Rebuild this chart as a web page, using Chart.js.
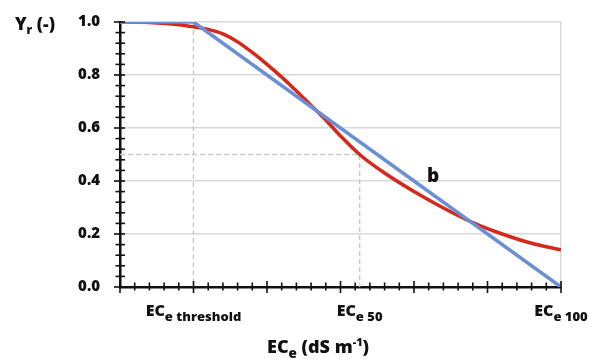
<!DOCTYPE html>
<html>
<head>
<meta charset="utf-8">
<script src="https://cdn.jsdelivr.net/npm/chart.js@4.4.1/dist/chart.umd.min.js"></script>
<style>
  html, body { margin: 0; padding: 0; background: #fff; }
  #wrap { width: 589px; height: 359px; position: relative; }
</style>
</head>
<body>
<div id="wrap"><canvas id="chart"></canvas></div>
<script>
// Relative yield vs. soil salinity (ECe)
const ecValues = [0, 2, 4, 5, 6, 7, 8, 9, 10, 11, 12, 13, 14, 15, 16.3, 18, 20, 22, 24, 26, 28, 30];
const relYield = [1.0, 0.998, 0.99, 0.982, 0.972, 0.955, 0.925, 0.885, 0.84, 0.792, 0.74, 0.685, 0.63, 0.57, 0.5, 0.43, 0.36, 0.298, 0.243, 0.2, 0.165, 0.14];

// threshold / linear decline model
const ecThreshold = 5;
const ec50 = 16.3;
const ec100 = 30;
const linearEc = [0, ecThreshold, ec100];
const linearYield = [1.0, 1.0, 0.0];

const xMarkValues = [ecThreshold, ec50, ec100];
const xMarkSubs = ['e threshold', 'e 50', 'e 100'];
const yTickValues = [0, 0.2, 0.4, 0.6, 0.8, 1.0];

const FONT = '"Open Sans", "Noto Sans", sans-serif';
const WEIGHT = '800';
const RED = '#d5281b';
const BLUE = '#6a8fd5';
const GUIDE = '#c9c9c9';
const INK = '#111';

const toPoints = (xs, ys) => xs.map((x, i) => ({ x: x, y: ys[i] }));

// text with a smaller lowered/raised piece, e.g. EC + e
function drawRich(ctx, parts, x, y, align) {
    let total = 0;
    parts.forEach(p => {
        ctx.font = WEIGHT + ' ' + p.size + 'px ' + FONT;
        p.w = ctx.measureText(p.text).width;
        total += p.w;
    });
    let cx = align === 'center' ? x - total / 2 : x;
    ctx.textAlign = 'left';
    ctx.textBaseline = 'alphabetic';
    parts.forEach(p => {
        ctx.font = WEIGHT + ' ' + p.size + 'px ' + FONT;
        ctx.fillText(p.text, cx, y + (p.dy || 0));
        cx += p.w;
    });
}

const axisDecor = {
    id: 'axisDecor',
    afterDraw(chart) {
        const ctx = chart.ctx;
        const xs = chart.scales.x, ys = chart.scales.y;
        const area = chart.chartArea;
        ctx.save();
        ctx.strokeStyle = INK;

        // cross tick marks on the x axis
        ctx.lineWidth = 1.6;
        for (let v = 0; v <= 30; v++) {
            const px = xs.getPixelForValue(v);
            const major = v % 5 === 0;
            ctx.beginPath();
            ctx.moveTo(px, area.bottom - (major ? 6 : 4.5));
            ctx.lineTo(px, area.bottom + (major ? 6 : 3.5));
            ctx.stroke();
        }
        // cross tick marks on the y axis
        for (let i = 0; i <= 25; i++) {
            const py = ys.getPixelForValue(i * 0.04);
            const major = i % 5 === 0;
            ctx.beginPath();
            ctx.moveTo(area.left - (major ? 6 : 4.5), py);
            ctx.lineTo(area.left + 5, py);
            ctx.stroke();
        }

        ctx.fillStyle = INK;
        // x tick labels
        xMarkValues.forEach((v, i) => {
            drawRich(ctx, [
                { text: 'EC', size: 16 },
                { text: xMarkSubs[i], size: 13, dy: 5 }
            ], xs.getPixelForValue(v), 316, 'center');
        });
        // axis titles
        drawRich(ctx, [
            { text: 'EC', size: 18 },
            { text: 'e', size: 13.5, dy: 5 },
            { text: ' (dS m', size: 18 },
            { text: '-1', size: 11, dy: -7 },
            { text: ')', size: 18 }
        ], 267, 353, 'left');
        drawRich(ctx, [
            { text: 'Y', size: 17.5 },
            { text: 'r', size: 12, dy: 4 },
            { text: ' (-)', size: 17.5 }
        ], 15, 30, 'left');
        // line label
        ctx.font = WEIGHT + ' 19px ' + FONT;
        ctx.textAlign = 'center';
        ctx.fillText('b', xs.getPixelForValue(21.3), ys.getPixelForValue(0.42) + 6);
        ctx.restore();
    }
};

new Chart(document.getElementById('chart'), {
    type: 'scatter',
    data: {
        datasets: [
            {
                label: 'linear',
                data: toPoints(linearEc, linearYield),
                showLine: true,
                borderColor: BLUE,
                borderWidth: 3.5,
                pointRadius: 0,
                tension: 0
            },
            {
                label: 'sigmoid',
                data: toPoints(ecValues, relYield),
                showLine: true,
                borderColor: RED,
                borderWidth: 3.5,
                pointRadius: 0,
                cubicInterpolationMode: 'monotone'
            },
            {
                label: 'threshold guide',
                data: [{ x: ecThreshold, y: 1.0 }, { x: ecThreshold, y: 0 }],
                showLine: true,
                borderColor: GUIDE,
                borderWidth: 1.5,
                borderDash: [5, 3],
                pointRadius: 0
            },
            {
                label: 'EC50 guide',
                data: [{ x: 0, y: 0.5 }, { x: ec50, y: 0.5 }, { x: ec50, y: 0 }],
                showLine: true,
                borderColor: GUIDE,
                borderWidth: 1.5,
                borderDash: [5, 3],
                pointRadius: 0
            }
        ]
    },
    options: {
        responsive: true,
        maintainAspectRatio: false,
        animation: false,
        layout: { padding: { top: 22, right: 28, left: 0, bottom: 0 } },
        plugins: { legend: { display: false }, tooltip: { enabled: false } },
        scales: {
            x: {
                type: 'linear',
                min: 0,
                max: 30,
                ticks: { display: false, stepSize: 5 },
                grid: {
                    drawTicks: false,
                    color: ctx => ctx.tick && ctx.tick.value === 30 ? '#d9d9d9' : 'rgba(0,0,0,0)',
                    lineWidth: 1.5
                },
                border: { color: INK, width: 2.5 },
                afterFit: s => { s.height = 72; s.paddingLeft = 0; s.paddingRight = 0; }
            },
            y: {
                min: 0,
                max: 1.0,
                afterBuildTicks: s => { s.ticks = yTickValues.map(v => ({ value: v })); },
                ticks: {
                    padding: 20,
                    color: INK,
                    font: { family: FONT, size: 15, weight: WEIGHT },
                    callback: v => v.toFixed(1)
                },
                grid: { drawTicks: false, color: '#d9d9d9', lineWidth: 1.5 },
                border: { color: INK, width: 2.5 },
                afterFit: s => { s.width = 120; s.paddingTop = 0; s.paddingBottom = 0; }
            }
        }
    },
    plugins: [axisDecor]
});
</script>
</body>
</html>
